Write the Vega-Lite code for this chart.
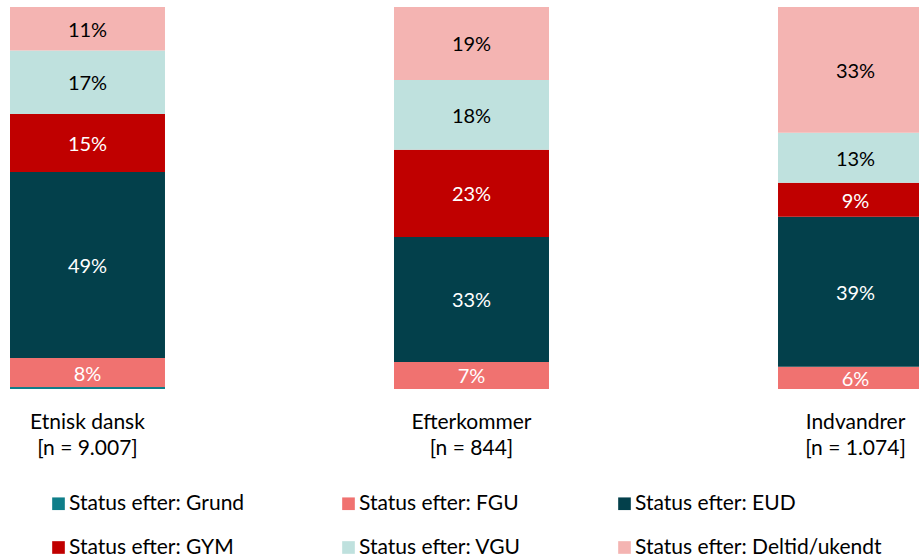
{
  "$schema": "https://vega.github.io/schema/vega-lite/v6.json",
  "width": 919,
  "height": 382,
  "autosize": {"type": "none"},
  "padding": {"left": 0, "top": 7, "right": 0, "bottom": 171},
  "background": "#ffffff",
  "config": {"view": {"stroke": null}, "font": "Lato"},
  "data": {
    "values": [
      {"g": "Etnisk dansk\n[n = 9.007]", "c": "Status efter: Grund", "o": 0, "v": 0.005},
      {"g": "Etnisk dansk\n[n = 9.007]", "c": "Status efter: FGU", "o": 1, "v": 0.076},
      {"g": "Etnisk dansk\n[n = 9.007]", "c": "Status efter: EUD", "o": 2, "v": 0.487},
      {"g": "Etnisk dansk\n[n = 9.007]", "c": "Status efter: GYM", "o": 3, "v": 0.152},
      {"g": "Etnisk dansk\n[n = 9.007]", "c": "Status efter: VGU", "o": 4, "v": 0.166},
      {"g": "Etnisk dansk\n[n = 9.007]", "c": "Status efter: Deltid/ukendt", "o": 5, "v": 0.114},
      {"g": "Efterkommer\n[n = 844]", "c": "Status efter: FGU", "o": 1, "v": 0.071},
      {"g": "Efterkommer\n[n = 844]", "c": "Status efter: EUD", "o": 2, "v": 0.327},
      {"g": "Efterkommer\n[n = 844]", "c": "Status efter: GYM", "o": 3, "v": 0.228},
      {"g": "Efterkommer\n[n = 844]", "c": "Status efter: VGU", "o": 4, "v": 0.183},
      {"g": "Efterkommer\n[n = 844]", "c": "Status efter: Deltid/ukendt", "o": 5, "v": 0.191},
      {"g": "Indvandrer\n[n = 1.074]", "c": "Status efter: FGU", "o": 1, "v": 0.058},
      {"g": "Indvandrer\n[n = 1.074]", "c": "Status efter: EUD", "o": 2, "v": 0.393},
      {"g": "Indvandrer\n[n = 1.074]", "c": "Status efter: GYM", "o": 3, "v": 0.089},
      {"g": "Indvandrer\n[n = 1.074]", "c": "Status efter: VGU", "o": 4, "v": 0.131},
      {"g": "Indvandrer\n[n = 1.074]", "c": "Status efter: Deltid/ukendt", "o": 5, "v": 0.329}
    ]
  },
  "encoding": {
    "x": {
      "field": "g",
      "type": "nominal",
      "sort": ["Etnisk dansk\n[n = 9.007]", "Efterkommer\n[n = 844]", "Indvandrer\n[n = 1.074]"],
      "scale": {"range": [10, 933], "paddingInner": 0.5964, "paddingOuter": 0},
      "axis": {
        "title": null,
        "labelAngle": 0,
        "domain": false,
        "ticks": false,
        "labelPadding": 22,
        "labelFontSize": 21,
        "labelFont": "Lato",
        "labelColor": "#000000",
        "labelLineHeight": 26,
        "labelExpr": "split(datum.label, '\\n')"
      }
    }
  },
  "layer": [
    {
      "mark": {"type": "bar", "clip": true},
      "encoding": {
        "y": {"field": "v", "type": "quantitative", "stack": "zero", "scale": {"domain": [0, 1]}, "axis": null},
        "order": {"field": "o", "type": "quantitative"},
        "color": {
          "field": "c",
          "type": "nominal",
          "scale": {
            "domain": ["Status efter: Grund", "Status efter: FGU", "Status efter: EUD", "Status efter: GYM", "Status efter: VGU", "Status efter: Deltid/ukendt"],
            "range": ["#0F7E89", "#F07270", "#03404B", "#C00000", "#BFE1DE", "#F4B4B2"]
          },
          "legend": {
            "orient": "none",
            "legendX": 48,
            "legendY": 486,
            "direction": "horizontal",
            "columns": 3,
            "title": null,
            "symbolType": "square",
            "symbolSize": 160,
            "symbolStrokeWidth": 0,
            "labelFontSize": 21,
            "labelFont": "Lato",
            "labelColor": "#000000",
            "labelOffset": 0,
            "labelLimit": 400,
            "rowPadding": 22,
            "columnPadding": 93
          }
        }
      }
    },
    {
      "mark": {"type": "text", "clip": true, "fontSize": 20, "font": "Lato", "dy": 2},
      "encoding": {
        "y": {"field": "v", "type": "quantitative", "stack": "zero", "bandPosition": 0.5},
        "order": {"field": "o", "type": "quantitative"},
        "detail": {"field": "c"},
        "text": {"field": "v", "format": ".0%", "condition": {"test": "datum.v < 0.03", "value": ""}},
        "color": {"condition": {"test": "datum.o >= 4", "value": "#000000"}, "value": "#ffffff"}
      }
    }
  ]
}
